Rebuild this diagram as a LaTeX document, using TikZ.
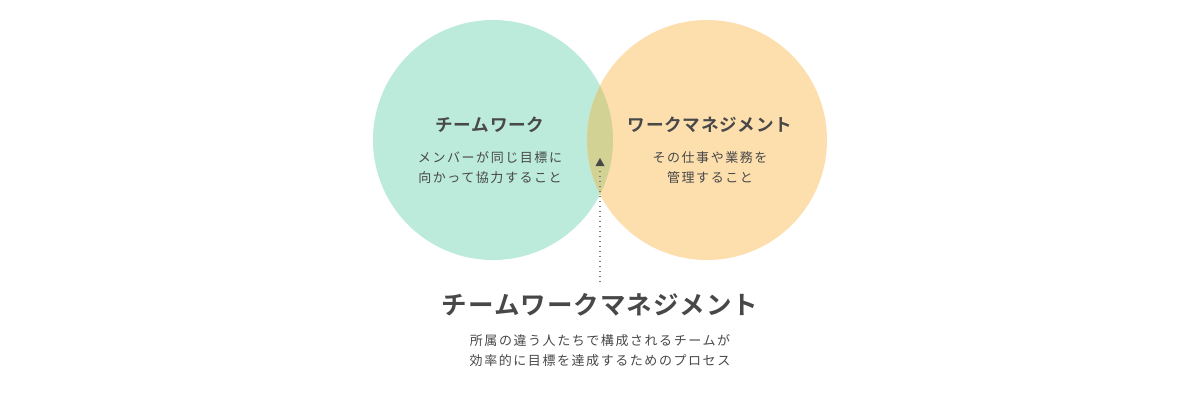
\documentclass[tikz,border=0pt]{standalone}
\usepackage{fontspec}
\newfontfamily\jp[LetterSpace=12]{Noto Sans CJK JP}
\newfontfamily\jpb[LetterSpace=4]{Noto Sans CJK JP Bold}
\newfontfamily\jpbig[LetterSpace=4]{Noto Sans CJK JP Bold}
\usetikzlibrary{arrows.meta}
\definecolor{mint}{HTML}{BDEBDB}
\definecolor{peach}{HTML}{FDDFAE}
\definecolor{olive}{HTML}{D3D295}
\definecolor{txt}{HTML}{484848}
\definecolor{dotc}{HTML}{7A7A7A}
\tikzset{
  head/.style={font=\jpb\fontsize{17.6}{20}\selectfont, text=txt, inner sep=0pt},
  body/.style={font=\jp\fontsize{13}{20}\selectfont, text=txt, align=center, inner sep=0pt},
  bigtitle/.style={font=\jpbig\fontsize{25.5}{30}\selectfont, text=txt, inner sep=0pt},
}
\begin{document}
\begin{tikzpicture}[x=1pt,y=-1pt]
\useasboundingbox (0,0) rectangle (1200,400);
\fill[white] (0,0) rectangle (1200,400);
\fill[mint] (493,140) circle (120);
\fill[peach] (707,140) circle (120);
\begin{scope}
\clip (493,140) circle (120);
\fill[olive] (707,140) circle (120);
\end{scope}
\node[head] (tw) at (490,125) {チームワーク};
\node[head] (wm) at (710,125) {ワークマネジメント};
\node[body] (twd) at (490,168) {メンバーが同じ目標に\\向かって協力すること};
\node[body] (wmd) at (710,168) {その仕事や業務を\\管理すること};
\node[bigtitle] (big) at (600,305) {チームワークマネジメント};
\node[body] (bigd) at (600,351) {所属の違う人たちで構成されるチームが\\効率的に目標を達成するためのプロセス};
\coordinate (tip) at (600,158);
\coordinate (bot) at (600,285);
\fill[txt] (600,158) -- (604.5,166) -- (595.5,166) -- cycle;
\draw[dotc, line width=1.2pt, dash pattern=on 1.2pt off 3.8pt] (600,171) -- (bot);
\end{tikzpicture}
\end{document}
